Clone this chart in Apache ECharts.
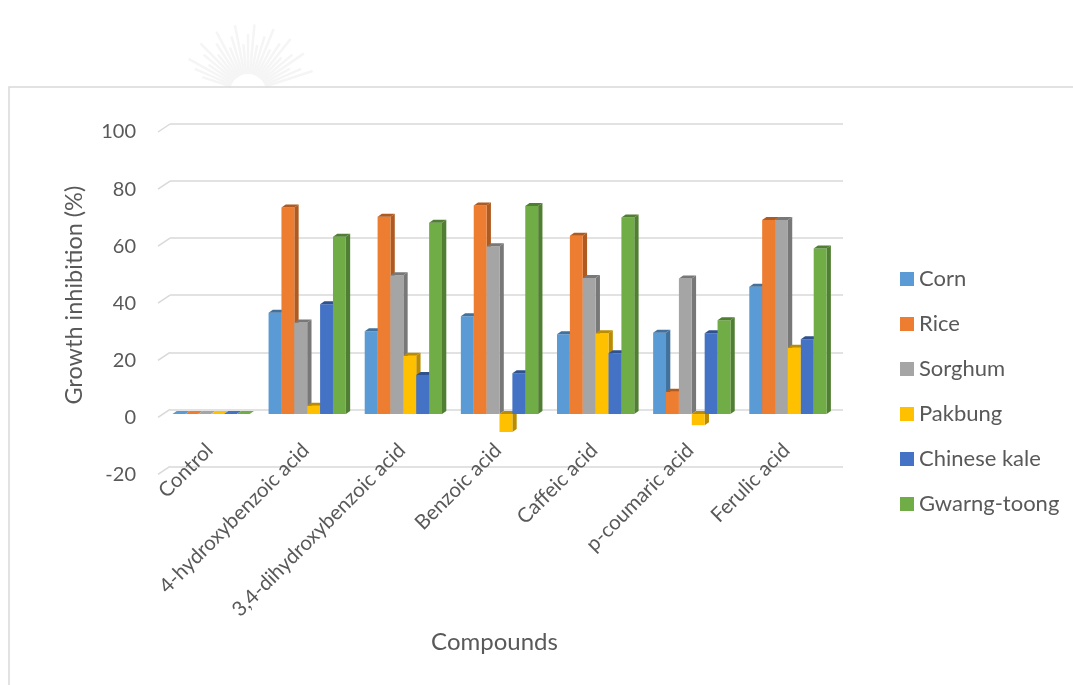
<!DOCTYPE html>
<html>
<head>
<meta charset="utf-8">
<script src="https://cdn.jsdelivr.net/npm/echarts@6/dist/echarts.min.js"></script>
<style>
  html, body { margin: 0; padding: 0; background: #ffffff; }
  #chart { width: 1073px; height: 685px; }
</style>
</head>
<body>
<div id="chart"></div>
<script>
// Growth inhibition (%) of six test plants by phenolic compounds
const compounds = ['Control', '4-hydroxybenzoic acid', '3,4-dihydroxybenzoic acid',
  'Benzoic acid', 'Caffeic acid', 'p-coumaric acid', 'Ferulic acid'];
const plants = ['Corn', 'Rice', 'Sorghum', 'Pakbung', 'Chinese kale', 'Gwarng-toong'];

const corn        = [0, 35.5, 29.0, 34.3, 28.0, 28.5, 44.6];
const rice        = [0, 72.4, 69.1, 73.1, 62.5, 7.8, 68.0];
const sorghum     = [0, 32.1, 48.6, 58.8, 47.7, 47.5, 68.0];
const pakbung     = [0, 2.9, 20.4, -6.3, 28.3, -3.9, 23.2];
const chineseKale = [0, 38.5, 13.7, 14.3, 21.3, 28.3, 26.2];
const gwarngToong = [0, 62.1, 67.0, 72.9, 68.9, 32.9, 58.0];

const yTicks = [-20, 0, 20, 40, 60, 80, 100];

const seriesValues = [corn, rice, sorghum, pakbung, chineseKale, gwarngToong];
const faceColors = ['#5b9bd5', '#ed7d31', '#a5a5a5', '#ffc000', '#4472c4', '#70ad47'];
const shadeColors = ['#41719c', '#ae5a21', '#787878', '#bc8c00', '#2f528f', '#507e32'];

// pseudo-3D geometry: bars sit partway into the depth of the plot box
const FRONT_DX = -7, FRONT_DY = 4.7;   // bar front plane relative to back wall
const DEPTH_DX = 4.3, DEPTH_DY = -3;   // visible thickness of each bar
const WALL_DX = -12, WALL_DY = 8;      // front edge of the side wall
const BAR_FRACTION = 0.134;            // bar width as a share of a category band

const FONT = 'Lato, "Liberation Sans", sans-serif';
const TEXT = '#595959';

function barRenderer(si) {
  return function (params, api) {
    const j = api.value(0);
    const v = api.value(1);
    const band = api.size([1, 0])[0];
    const bw = band * BAR_FRACTION;
    const hi = api.coord([j, Math.max(v, 0)]);
    const lo = api.coord([j, Math.min(v, 0)]);
    const x0 = hi[0] - 3 * bw + si * bw + FRONT_DX;
    const yT = hi[1] + FRONT_DY;
    const yB = lo[1] + FRONT_DY;
    const x1 = x0 + bw;
    const flat = v === 0;
    const children = [];
    if (!flat) {
      children.push({
        type: 'polygon',
        shape: { points: [[x1, yT], [x1 + DEPTH_DX, yT + DEPTH_DY], [x1 + DEPTH_DX, yB + DEPTH_DY], [x1, yB]] },
        style: { fill: shadeColors[si] }
      });
      children.push({
        type: 'rect',
        shape: { x: x0, y: yT, width: bw, height: yB - yT },
        style: { fill: faceColors[si] }
      });
    }
    children.push({
      type: 'polygon',
      shape: { points: [[x0, yT], [x0 + DEPTH_DX, yT + DEPTH_DY], [x1 + DEPTH_DX, yT + DEPTH_DY], [x1, yT]] },
      style: { fill: flat ? faceColors[si] : shadeColors[si] }
    });
    return { type: 'group', children: children };
  };
}

// short slanted stubs of the gridlines along the left side wall
function wallRenderer(params, api) {
  const v = api.value(0);
  const cs = params.coordSys;
  const p = api.coord([0, v]);
  return {
    type: 'line',
    shape: { x1: cs.x, y1: p[1], x2: cs.x + WALL_DX, y2: p[1] + WALL_DY },
    style: { stroke: '#d9d9d9', lineWidth: 1.5 }
  };
}

const chart = echarts.init(document.getElementById('chart'), null, { renderer: 'canvas' });

const series = plants.map((name, si) => ({
  name: name,
  type: 'custom',
  renderItem: barRenderer(si),
  itemStyle: { color: faceColors[si] },
  data: seriesValues[si].map((v, j) => [j, v]),
  z: 3
}));

series.push({
  name: 'wall',
  type: 'custom',
  renderItem: wallRenderer,
  data: yTicks.map(v => [v]),
  encode: { y: 0 },
  silent: true,
  z: 1
});

// faint emblem rays above the chart frame
const rays = [];
for (let k = 0; k <= 26; k++) {
  const a = Math.PI * (0.1 + 0.8 * k / 26);
  const cx = 248, cy = 92;
  const r2 = 48 + (k % 3) * 10;
  rays.push({
    type: 'line',
    shape: {
      x1: cx - Math.cos(a) * 18, y1: cy - Math.sin(a) * 18,
      x2: cx - Math.cos(a) * r2, y2: cy - Math.sin(a) * r2
    },
    style: { stroke: '#f5f5f5', lineWidth: 2.5 },
    silent: true
  });
}

chart.setOption({
  animation: false,
  backgroundColor: '#ffffff',
  graphic: [
    { type: 'group', children: rays, z: 0 },
    {
      type: 'rect',
      shape: { x: 9, y: 87, width: 1100, height: 700 },
      style: { fill: 'none', stroke: '#d9d9d9', lineWidth: 1.5 },
      silent: true,
      z: 0
    }
  ],
  grid: { left: 170, right: 230, top: 124, bottom: 218.6, containLabel: false, outerBoundsMode: 'none' },
  legend: {
    orient: 'vertical',
    left: 895,
    top: 263,
    icon: 'rect',
    itemWidth: 14,
    itemHeight: 14,
    itemGap: 23,
    data: plants,
    textStyle: { fontFamily: FONT, fontSize: 22, color: TEXT }
  },
  xAxis: {
    type: 'category',
    data: compounds,
    // category labels sit along the zero level of the floor
    offset: -57,
    name: 'Compounds',
    nameLocation: 'middle',
    nameGap: 221,
    nameTextStyle: { fontFamily: FONT, fontSize: 24, color: TEXT, padding: [0, 24, 0, 0] },
    axisLine: { show: false, onZero: false },
    axisTick: { show: false },
    splitLine: { show: false },
    axisLabel: {
      rotate: 45,
      interval: 0,
      margin: 29,
      padding: [0, 12, 0, 0],
      fontFamily: FONT,
      fontSize: 20.5,
      color: TEXT
    }
  },
  yAxis: {
    type: 'value',
    min: -20,
    max: 100,
    interval: 20,
    name: 'Growth inhibition (%)',
    nameLocation: 'middle',
    nameGap: 84,
    nameTextStyle: { fontFamily: FONT, fontSize: 23.5, color: TEXT },
    axisLine: { show: false },
    axisTick: { show: false },
    splitLine: { show: true, lineStyle: { color: '#d9d9d9', width: 1.5 } },
    axisLabel: {
      margin: 34,
      formatter: '{v|{value}}',
      rich: { v: { fontFamily: FONT, fontSize: 20, color: TEXT, padding: [16, 0, 0, 0] } },
      fontFamily: FONT,
      fontSize: 20,
      color: TEXT
    }
  },
  series: series
});
</script>
</body>
</html>
